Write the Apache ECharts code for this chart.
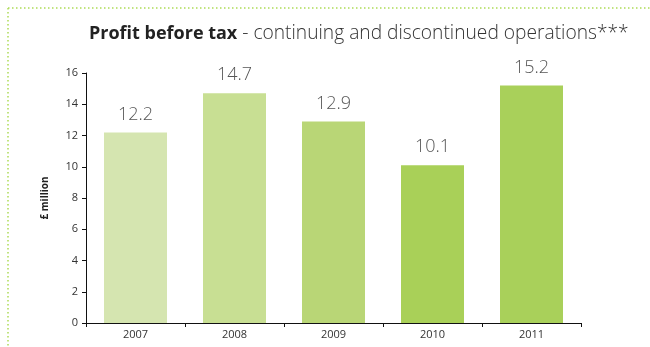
<!DOCTYPE html>
<html><head><meta charset="utf-8">
<script src="https://cdn.jsdelivr.net/npm/echarts@6/dist/echarts.min.js"></script>
<style>html,body{margin:0;padding:0;background:#fff}#c{width:650px;height:347px}</style>
</head><body><div id="c"></div>
<script>
const categories = ['2007', '2008', '2009', '2010', '2011'];
const profitValues = [12.2, 14.7, 12.9, 10.1, 15.2];
const barColors = ['#d5e5b0', '#c8df93', '#b9d676', '#a9d058', '#a9d05a'];
const yTicks = [0, 2, 4, 6, 8, 10, 12, 14, 16];

const chart = echarts.init(document.getElementById('c'));
const font = '"Open Sans", "Noto Sans", sans-serif';
chart.setOption({
  animation: false,
  title: {
    left: 84, top: 19,
    text: '{b|Profit before tax}{n| - continuing and discontinued operations***}',
    textStyle: {
      rich: {
        b: { fontFamily: font, fontWeight: 'bold', fontSize: 18, color: '#222' },
        n: { fontFamily: font, fontWeight: 300, fontSize: 19.2, color: '#333' }
      }
    }
  },
  graphic: [
    { type: 'line', shape: { x1: 8, y1: 8, x2: 650, y2: 8 }, style: { stroke: '#addb55', lineWidth: 1.5, lineDash: [1.5, 2.5] } },
    { type: 'line', shape: { x1: 8, y1: 8, x2: 8, y2: 347 }, style: { stroke: '#addb55', lineWidth: 1.5, lineDash: [1.5, 2.5] } }
  ],
  grid: { left: 86, right: 69, top: 73, bottom: 24 },
  xAxis: {
    type: 'category', data: categories,
    axisLine: { lineStyle: { color: '#111', width: 1 } },
    axisTick: { show: true, length: 4, lineStyle: { color: '#111' } },
    axisLabel: { fontFamily: font, fontSize: 11, color: '#333', margin: 6 }
  },
  yAxis: {
    type: 'value', min: yTicks[0], max: yTicks[yTicks.length - 1], interval: 2,
    name: '£ million', nameLocation: 'middle', nameGap: 36,
    nameTextStyle: { fontFamily: font, fontSize: 10, fontWeight: 'bold', color: '#222' },
    axisLine: { show: true, lineStyle: { color: '#111', width: 1 } },
    axisTick: { show: true, length: 4, lineStyle: { color: '#111' } },
    splitLine: { show: false },
    axisLabel: { fontFamily: font, fontSize: 11, color: '#333', margin: 8 }
  },
  series: [{
    type: 'bar', barWidth: 63,
    data: profitValues.map((v, i) => ({ value: v, itemStyle: { color: barColors[i] } })),
    label: {
      show: true, position: 'top', distance: 9,
      fontFamily: font, fontSize: 18, fontWeight: 300, color: '#555',
      formatter: p => p.value.toFixed(1)
    }
  }]
});
</script></body></html>
